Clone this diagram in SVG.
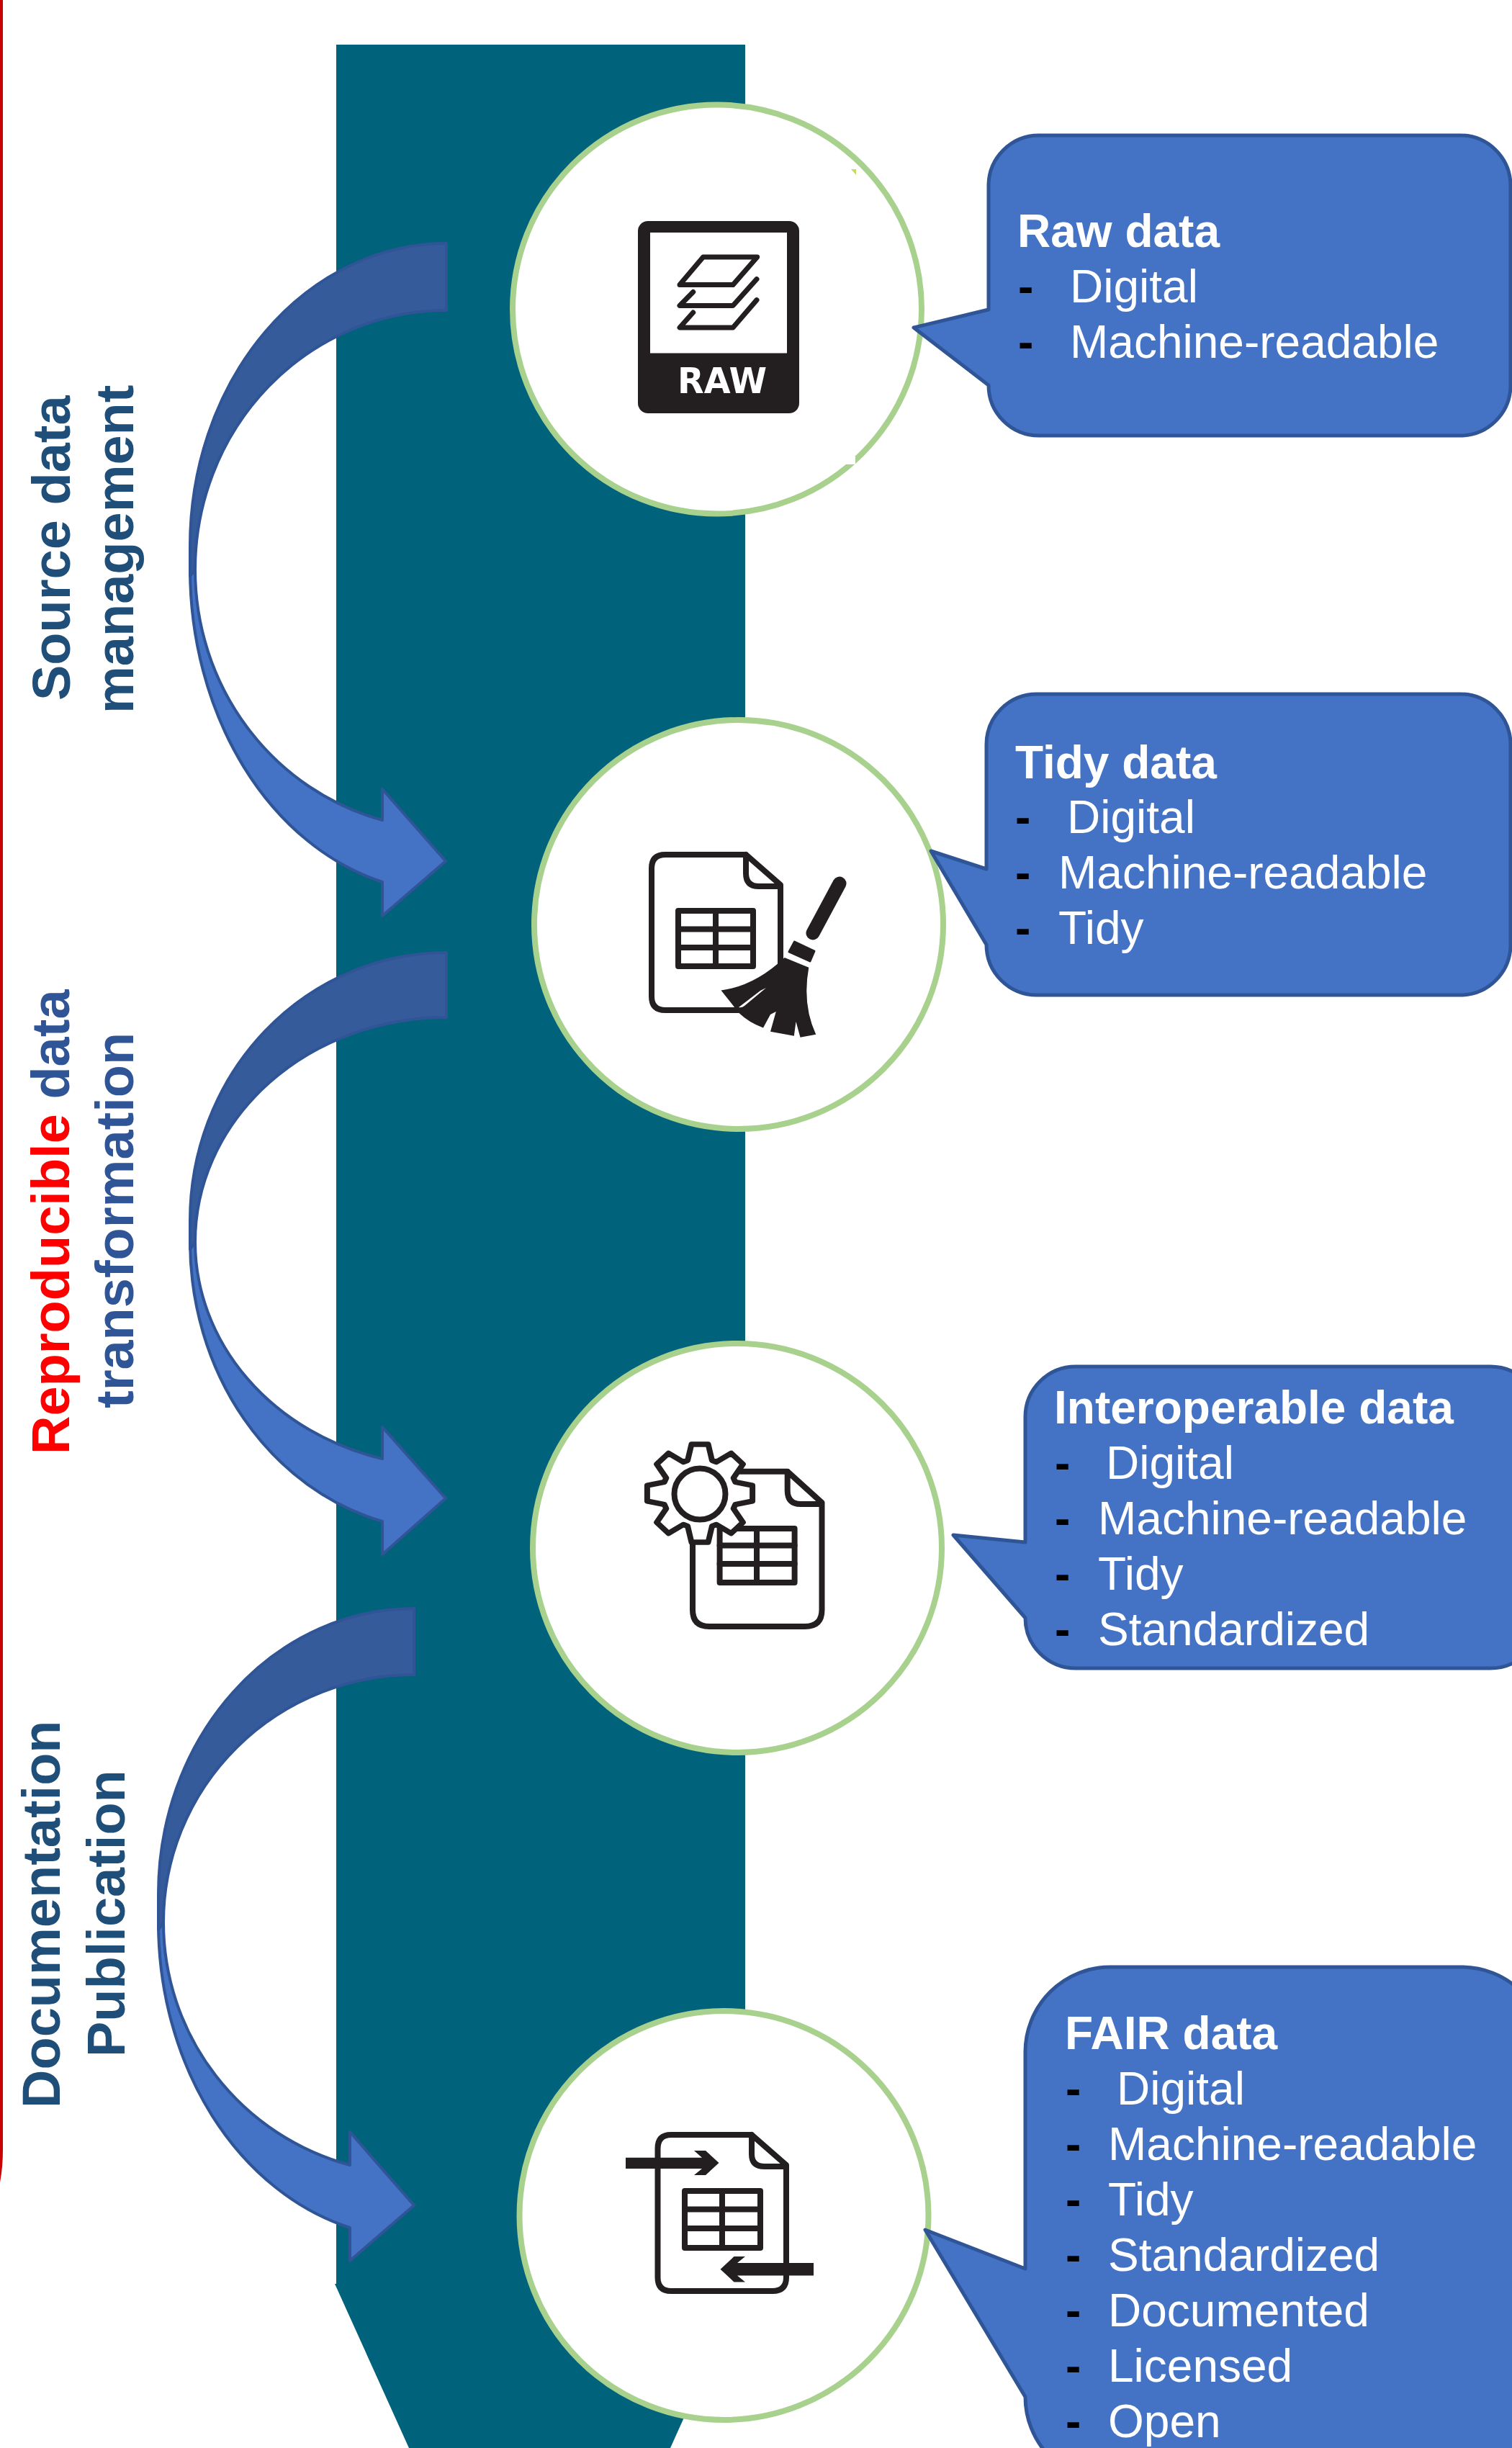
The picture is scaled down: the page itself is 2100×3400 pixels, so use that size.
<svg xmlns="http://www.w3.org/2000/svg" width="2100" height="3400" viewBox="0 0 2100 3400">
<style>
text{font-family:"Liberation Sans",Arial,sans-serif}
.ring{fill:#fff;stroke:#A9D18E;stroke-width:8}
.bubble{fill:#4472C4;stroke:#2F5597;stroke-width:5;stroke-linejoin:round}
.h{font-size:64px;font-weight:700;fill:#fff}
.t{font-size:64px;fill:#fff}
.d{font-size:64px;fill:#000;font-weight:700}
.low{fill:#4472C4;stroke:#2F5597;stroke-width:4;stroke-linejoin:round}
.up{fill:#365B9A;stroke:#2F5597;stroke-width:4;stroke-linejoin:round}
.lab{font-size:74px;font-weight:700}
.navy{fill:#1F4E79}
.blue{fill:#2F5597}
.red{fill:#FF0000}
.line{fill:none;stroke:#231F20;stroke-width:8;stroke-linejoin:round;stroke-linecap:round}
.thin{stroke-width:7}
.handle{stroke-width:19}
.solid{fill:#231F20}
</style>
<rect width="2100" height="3400" fill="#fff"/>
<path id="red-frame" d="M2,0V2985Q2,3020-6,3048" fill="none" stroke="#C80000" stroke-width="4"/>
<polygon id="flow-band" points="467,62 1035,62 1035,3169 931,3400 568,3400 465,3172 467,3172" fill="#00627B"/>

<g id="connectors">
<g id="arrow-1">
<path class="low" d="M619,1196L531,1272V1225A357,449 0 0 1 264,790V760L271,791A350,360 0 0 0 531,1139V1096Z"/>
<path class="up" d="M620,338A356,420 0 0 0 264,758V800L271,791A349,360 0 0 1 620,431Z"/>
</g>
<g id="arrow-2">
<path class="low" d="M619,2081L531,2159V2113A357,401 0 0 1 264,1725V1695L271,1725A350,312 0 0 0 531,2026V1982Z"/>
<path class="up" d="M620,1323A356,372 0 0 0 264,1695V1735L271,1725A349,312 0 0 1 620,1413Z"/>
</g>
<g id="arrow-3">
<path class="low" d="M575,3063L486,3140V3094A357,438 0 0 1 220,2670V2632L227,2670A350,349 0 0 0 486,3007V2961Z"/>
<path class="up" d="M575,2234A355,396 0 0 0 220,2630V2680L227,2670A348,344 0 0 1 575,2326Z"/>
</g>
</g>

<g id="label-source">
<text class="lab navy" transform="translate(97,973) rotate(-90)">Source data</text>
<text class="lab navy" transform="translate(185,991) rotate(-90)">management</text>
</g>
<g id="label-transform">
<text class="lab" transform="translate(96,2020) rotate(-90)"><tspan class="red">Reproducible</tspan><tspan class="blue"> data</tspan></text>
<text class="lab blue" transform="translate(185,1956) rotate(-90)">transformation</text>
</g>
<g id="label-publish">
<text class="lab navy" transform="translate(83,2928) rotate(-90)">Documentation</text>
<text class="lab navy" transform="translate(173,2857) rotate(-90)">Publication</text>
</g>

<g id="node-raw">
<circle class="ring" cx="996" cy="429.5" r="284"/>
<polygon points="1174,634 1188,634 1188,645 1174,645" fill="#fff"/>
<polygon points="1182,235 1189,235 1189,243" fill="#C5DC5A"/>
<rect class="solid" x="886" y="307" width="224" height="267" rx="14"/>
<rect x="903" y="323" width="190" height="167.500" fill="#fff"/>
<path class="line thin" d="M976.600,357H1051.700L1018,395.600H944Z"/>
<path class="line thin" d="M962.700,405.500L944,424.500H1018L1051,387.700"/>
<path class="line thin" d="M962.700,434L944,455H1018L1051,416.600"/>
<text x="941" y="546" font-size="50" font-weight="700" fill="#fff" style="font-family:'DejaVu Sans',sans-serif" textLength="124" lengthAdjust="spacingAndGlyphs">RAW</text>
</g>

<g id="node-tidy">
<circle class="ring" cx="1026" cy="1284" r="284"/>
<path class="line" d="M1036,1187H924Q905,1187 905,1206V1384Q905,1403 924,1403H1026M1036,1187V1213Q1036,1231 1054,1231H1084M1036,1187L1084,1229V1338"/>
<rect class="line" x="942" y="1265" width="104" height="77"/>
<path class="line" d="M994,1265V1342M942,1290.500H1046M942,1316H1046"/>
<path class="line handle" d="M1166,1227L1129,1296"/>
<polygon class="solid" points="1096,1322 1103.500,1308 1131,1321 1125,1335" stroke="#231F20" stroke-width="3" stroke-linejoin="round"/>
<path class="solid" d="M1089.700,1330L1123.300,1343.800Q1114,1395 1133.200,1436.700L1111.500,1440.700L1105.500,1419L1102.800,1438.700L1070,1432.700L1077.800,1405L1070,1409L1060,1427.600Q1040,1420 1026.400,1407L1001.500,1375.400Q1048,1369.500 1089.700,1330Z"/>
<path d="M1064,1372L1034,1397Q1030,1400 1026,1399L1056,1376Z" fill="#fff"/>
</g>

<g id="node-interoperable">
<circle class="ring" cx="1024" cy="2150" r="284"/>
<path class="line" d="M1028,2043.700H1093.700L1141.500,2087V2236Q1141.500,2259 1118,2259H985Q962,2259 962,2236V2134M1093.700,2043.700V2070Q1093.700,2089 1112,2089H1141.500"/>
<rect class="line" x="999.600" y="2123" width="104" height="75"/>
<path class="line" d="M1051,2123V2198M999.600,2146.600H1103.600M999.600,2172H1103.600"/>
<polygon transform="translate(972,2074) scale(1,.93)" fill="#fff" stroke="#231F20" stroke-width="8" stroke-linejoin="round" points="-16.900,-49.200 -11.600,-73.100 11.600,-73.100 16.900,-49.200 22.800,-46.700 43.500,-59.900 59.900,-43.500 46.700,-22.800 49.200,-16.900 73.100,-11.600 73.100,11.600 49.200,16.900 46.700,22.800 59.900,43.500 43.500,59.900 22.800,46.700 16.900,49.200 11.600,73.100 -11.600,73.100 -16.900,49.200 -22.800,46.700 -43.500,59.900 -59.900,43.500 -46.700,22.800 -49.200,16.900 -73.100,11.600 -73.100,-11.600 -49.200,-16.900 -46.700,-22.800 -59.900,-43.500 -43.500,-59.900 -22.800,-46.700"/>
<circle cx="972" cy="2075" r="35.500" fill="#fff" stroke="#231F20" stroke-width="8"/>
</g>

<g id="node-fair">
<circle class="ring" cx="1005.500" cy="3077" r="284"/>
<path class="line" d="M1044,2965H932Q913.500,2965 913.500,2984V3163Q913.500,3182 932,3182H1073Q1092,3182 1092,3163V3007L1044,2965V2992Q1044,3009 1062,3009H1092"/>
<rect class="line" x="951" y="3043" width="105" height="79"/>
<path class="line" d="M1003,3043V3122M951,3068.600H1056M951,3095H1056"/>
<polygon class="solid" points="869,2996.700 975,2996.700 964,2987 980,2987 998.500,3004 980,3021 964,3021 975,3012 869,3012"/>
<polygon class="solid" points="1130,3143 1024,3143 1035,3134 1019.500,3134 1000.500,3151.700 1019.500,3169.500 1035,3169.500 1024,3160.400 1130,3160.400"/>
</g>

<g id="bubble-raw">
<path class="bubble" d="M1443,188H2028A70,70 0 0 1 2098,258V535A70,70 0 0 1 2028,605H1443A70,70 0 0 1 1373,535L1269,455L1373,430V258A70,70 0 0 1 1443,188Z"/>
<text class="h" x="1413" y="343">Raw data</text>
<text class="d" x="1414" y="420">-</text><text class="t" x="1486" y="420">Digital</text>
<text class="d" x="1414" y="497">-</text><text class="t" x="1486" y="497">Machine-readable</text>
</g>

<g id="bubble-tidy">
<path class="bubble" d="M1440,964H2028A70,70 0 0 1 2098,1034V1312A70,70 0 0 1 2028,1382H1440A70,70 0 0 1 1370,1312L1293,1182L1370,1207V1034A70,70 0 0 1 1440,964Z"/>
<text class="h" x="1410" y="1081">Tidy data</text>
<text class="d" x="1410" y="1157">-</text><text class="t" x="1482" y="1157">Digital</text>
<text class="d" x="1410" y="1234">-</text><text class="t" x="1470" y="1234">Machine-readable</text>
<text class="d" x="1410" y="1311">-</text><text class="t" x="1470" y="1311">Tidy</text>
</g>

<g id="bubble-interoperable">
<path class="bubble" d="M1494,1898H2070A70,70 0 0 1 2140,1968V2247A70,70 0 0 1 2070,2317H1494A70,70 0 0 1 1424,2247L1324,2132L1424,2142V1968A70,70 0 0 1 1494,1898Z"/>
<text class="h" x="1464" y="1977">Interoperable data</text>
<text class="d" x="1465" y="2054">-</text><text class="t" x="1536" y="2054">Digital</text>
<text class="d" x="1465" y="2131">-</text><text class="t" x="1525" y="2131">Machine-readable</text>
<text class="d" x="1465" y="2208">-</text><text class="t" x="1525" y="2208">Tidy</text>
<text class="d" x="1465" y="2285">-</text><text class="t" x="1525" y="2285">Standardized</text>
</g>

<g id="bubble-fair">
<path class="bubble" d="M1542,2732H2030A118,118 0 0 1 2148,2850V3329A118,118 0 0 1 2030,3447H1542A118,118 0 0 1 1424,3329L1285,3097L1424,3151V2850A118,118 0 0 1 1542,2732Z"/>
<text class="h" x="1479" y="2846">FAIR data</text>
<text class="d" x="1480" y="2923">-</text><text class="t" x="1551" y="2923">Digital</text>
<text class="d" x="1480" y="3000">-</text><text class="t" x="1539" y="3000">Machine-readable</text>
<text class="d" x="1480" y="3077">-</text><text class="t" x="1539" y="3077">Tidy</text>
<text class="d" x="1480" y="3154">-</text><text class="t" x="1539" y="3154">Standardized</text>
<text class="d" x="1480" y="3231">-</text><text class="t" x="1539" y="3231">Documented</text>
<text class="d" x="1480" y="3308">-</text><text class="t" x="1539" y="3308">Licensed</text>
<text class="d" x="1480" y="3385">-</text><text class="t" x="1539" y="3385">Open</text>
</g>
</svg>
